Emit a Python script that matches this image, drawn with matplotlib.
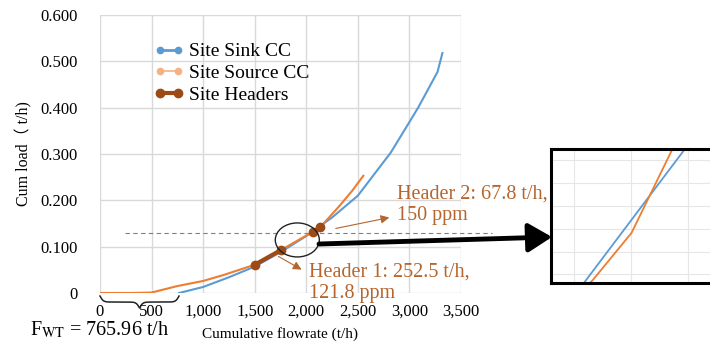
import numpy as np
import matplotlib
matplotlib.use("Agg")
import matplotlib.pyplot as plt
from matplotlib.lines import Line2D
from matplotlib.patches import Ellipse, FancyArrowPatch

# data ---------------------------------------------------------------------
sink_flow = [766, 1000, 1250, 1500, 1750, 2000, 2250, 2500, 2750, 2816, 2893, 3000, 3087, 3272, 3320]
sink_load = [0.0, 0.013, 0.034, 0.057, 0.088, 0.123, 0.163, 0.210, 0.283, 0.302, 0.330, 0.369, 0.401, 0.477, 0.518]

source_flow = [0, 300, 500, 750, 1000, 1200, 1500, 1757, 2000, 2068, 2136, 2330, 2450, 2553]
source_load = [0.0, 0.0, 0.001, 0.015, 0.026, 0.039, 0.061, 0.093, 0.124, 0.132, 0.142, 0.190, 0.222, 0.253]

header_flow = [1500, 1757, np.nan, 2068, 2136]
header_load = [0.061, 0.093, np.nan, 0.132, 0.142]

F_WT = 765.96
pinch_load = 0.13

header1_text = "Header 1: 252.5 t/h,\n121.8 ppm"
header2_text = "Header 2: 67.8 t/h,\n150 ppm"

SINK_C = "#5b9bd5"
SOURCE_C = "#ed7d31"
HEAD_C = "#9e4a14"
TEXT_C = "#b5652d"

plt.rcParams["font.family"] = ["Liberation Serif", "Noto Sans CJK SC", "DejaVu Serif"]
plt.rcParams["mathtext.fontset"] = "stix"

W, H = 710, 343
fig = plt.figure(figsize=(W / 100, H / 100), dpi=100)


def fx(x):
    return x / W


def fy(y):
    return 1 - y / H


def px(x, y):
    return (fx(x), fy(y))


# main chart ---------------------------------------------------------------
ax = fig.add_axes([fx(100), fy(293), fx(461) - fx(100), fy(15) - fy(293)])
ax.plot(sink_flow, sink_load, color=SINK_C, lw=1.5, zorder=3)
ax.plot(source_flow, source_load, color=SOURCE_C, lw=1.5, zorder=3)
ax.plot(header_flow, header_load, color=HEAD_C, lw=3, marker="o", ms=6, zorder=4)

ax.set_xlim(0, 3500)
ax.set_ylim(0, 0.6)
ax.set_xticks(np.arange(0, 3501, 500))
ax.set_yticks(np.arange(0, 0.61, 0.1))
ax.set_xticklabels(["0"] + [f"{v:,}" for v in range(500, 3501, 500)])
ax.set_yticklabels(["0"] + [f"{v:.3f}" for v in np.arange(0.1, 0.61, 0.1)])
ax.tick_params(length=0, labelsize=12)
ax.tick_params(axis="y", pad=16)
ax.tick_params(axis="x", pad=8)
ax.grid(color="#d9d9d9", lw=1)
ax.set_axisbelow(True)
for s in ax.spines.values():
    s.set_visible(False)
ax.set_xlabel("Cumulative flowrate (t/h)", fontsize=11, labelpad=5)
ax.set_ylabel("Cum load（ t/h)", fontsize=11.5, labelpad=6)

handles = [
    Line2D([], [], color=SINK_C, lw=2, marker="o", ms=4.5),
    Line2D([], [], color="#f4b183", lw=1.2, marker="o", ms=4.5),
    Line2D([], [], color=HEAD_C, lw=3, marker="o", ms=6),
]
ax.legend(handles, ["Site Sink CC", "Site Source CC", "Site Headers"],
          loc="upper left", bbox_to_anchor=(0.124, 0.935), frameon=False,
          fontsize=14, numpoints=2, handlelength=1.5, handletextpad=0.3,
          labelspacing=0.22, borderpad=0)

# pinch region highlight
ax.plot([240, 3800], [pinch_load, pinch_load], ls=(0, (4, 3)), lw=0.8,
        color="#808080", clip_on=False, zorder=2)
ax.add_patch(Ellipse((1913, 0.1145), 427, 0.0734, fill=False, ec="#222222",
                     lw=1, zorder=5))

# brace under the x axis for F_WT
bx = np.linspace(0, F_WT, 201)
u = np.concatenate([np.linspace(0, 1, 101), np.linspace(1, 0, 101)[1:]])
b = 12
s = 0.5 * np.tanh(b * u) + 0.5 * (1 - np.tanh(b * (1 - u)))
by = -0.011 - 0.043 * s
ax.plot(bx, by, color="#222222", lw=1.1, transform=ax.get_xaxis_transform(),
        clip_on=False)
fig.text(fx(30), fy(335), r"F$_{\mathrm{WT}}$ = 765.96 t/h", fontsize=14.5,
         va="baseline", ha="left")

# header annotations
fig.text(fx(397), fy(220), header2_text, color=TEXT_C, fontsize=14.5,
         va="baseline", ha="left", linespacing=1.15)
fig.text(fx(309), fy(298), header1_text, color=TEXT_C, fontsize=14.5,
         va="baseline", ha="left", linespacing=1.15)
fig.patches.append(FancyArrowPatch(px(333, 229), px(392, 217), transform=fig.transFigure,
                                   arrowstyle="-|>,head_length=0.5,head_width=0.25",
                                   mutation_scale=10, color=TEXT_C, lw=0.8))
fig.patches.append(FancyArrowPatch(px(276, 255), px(304, 271), transform=fig.transFigure,
                                   arrowstyle="-|>,head_length=0.5,head_width=0.25",
                                   mutation_scale=10, color=TEXT_C, lw=0.8))

# big arrow to the zoom box
fig.patches.append(FancyArrowPatch(px(319, 244), px(552, 237), transform=fig.transFigure,
                                   arrowstyle="-|>,head_length=0.9,head_width=0.55",
                                   mutation_scale=16, color="black", lw=3.5,
                                   shrinkA=0, shrinkB=0))

# zoom box -----------------------------------------------------------------
ins = fig.add_axes([fx(551), fy(283), fx(715) - fx(551), fy(149) - fy(283)])
ins.plot(sink_flow, sink_load, color=SINK_C, lw=1.3)
ins.plot(source_flow, source_load, color=SOURCE_C, lw=1.3)
ins.set_xlim(1995, 2282)
ins.set_ylim(0.1314, 0.1597)
ins.set_xticks([2035, 2135, 2235])
ins.set_yticks([0.1333, 0.1380, 0.1428, 0.1477, 0.1525, 0.1574])
ins.tick_params(length=0, labelbottom=False, labelleft=False)
ins.grid(color="#e6e6e6", lw=0.8)
for s in ins.spines.values():
    s.set_linewidth(2.2)
    s.set_color("black")

fig.savefig("out.png", dpi=100)
